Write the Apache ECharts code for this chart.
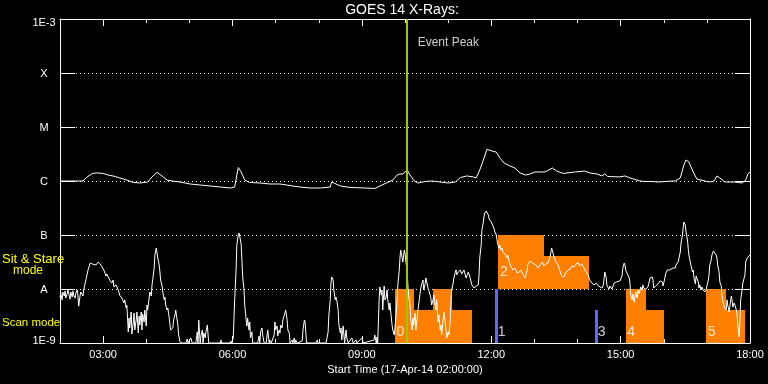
<!DOCTYPE html>
<html><head><meta charset="utf-8">
<script src="https://cdn.jsdelivr.net/npm/echarts@6/dist/echarts.min.js"></script>
<style>html,body{margin:0;padding:0;background:#000}#c{width:768px;height:384px}</style>
</head><body><div id="c"></div>
<script>
// Time in minutes after 00:00 on 17-Apr-14, flux in W/m^2
const xTickMinutes = [180, 360, 540, 720, 900, 1080];
const xTickLabels = ['03:00', '06:00', '09:00', '12:00', '15:00', '18:00'];
const yTickExps = [-9, -8, -7, -6, -5, -4, -3];
const yTickLabels = ['1E-9', 'A', 'B', 'C', 'M', 'X', '1E-3'];

// 1-8 Angstrom channel (upper curve)
const longFlux = [[120,1e-6],[141,1e-6],[152,1e-6],[156,1.14e-6],[165,1.38e-6],[171,1.41e-6],[180,1.38e-6],[187,1.29e-6],[197,1.21e-6],[203,1.14e-6],[213,1.04e-6],[222,9.4e-7],[231,9.18e-7],[242,9.58e-7],[248,1.19e-6],[255,1.45e-6],[262,1.24e-6],[269,1.04e-6],[280,9.8e-7],[287,9.58e-7],[301,8.8e-7],[315,8.43e-7],[329,8.08e-7],[343,7.74e-7],[357,7.42e-7],[363,7.74e-7],[368,1.78e-6],[372,1.47e-6],[377,1.04e-6],[384,9.4e-7],[398,9.18e-7],[412,8.8e-7],[426,8.8e-7],[444,8.08e-7],[454,7.74e-7],[468,7.42e-7],[482,7.42e-7],[496,7.74e-7],[498,9.58e-7],[504,8.8e-7],[510,8.08e-7],[523,7.6e-7],[544,7.42e-7],[558,7.27e-7],[565,8.08e-7],[574,9.18e-7],[583,1.04e-6],[589,1.29e-6],[593,1.35e-6],[597,1.35e-6],[600,1.47e-6],[603,1.6e-6],[607,1.29e-6],[613,1e-6],[618,9.18e-7],[628,9.8e-7],[638,1e-6],[649,9.58e-7],[660,9.18e-7],[670,9.58e-7],[677,1.16e-6],[686,1.24e-6],[695,1.19e-6],[699,1.14e-6],[704,1.6e-6],[709,2.45e-6],[714,3.86e-6],[721,3.59e-6],[727,3.44e-6],[732,2.67e-6],[738,2.15e-6],[746,1.9e-6],[753,1.74e-6],[760,1.41e-6],[768,1.29e-6],[774,1.35e-6],[781,1.47e-6],[795,1.47e-6],[805,1.74e-6],[811,1.53e-6],[820,1.38e-6],[837,1.47e-6],[850,1.53e-6],[857,1.41e-6],[867,1.35e-6],[874,1.24e-6],[878,1.35e-6],[882,1.21e-6],[899,1.19e-6],[906,1.24e-6],[913,1.14e-6],[927,1e-6],[934,9.8e-7],[944,9.8e-7],[952,9.58e-7],[962,9.8e-7],[976,1e-6],[983,1.14e-6],[988,1.98e-6],[991,2.45e-6],[995,2.25e-6],[1001,1.47e-6],[1006,1.09e-6],[1017,1e-6],[1024,9.58e-7],[1030,1e-6],[1034,1.24e-6],[1038,1.14e-6],[1045,9.58e-7],[1059,9.58e-7],[1069,9.18e-7],[1074,1.04e-6],[1077,1.35e-6],[1080,1.47e-6]];

// 0.5-4 Angstrom channel (lower curve)
const shortFlux = [[120,7.1e-9],[121,8.4e-9],[123,6.3e-9],[124,8.8e-9],[126,7.4e-9],[127,9.2e-9],[128,6.8e-9],[130,8.1e-9],[131,9.6e-9],[133,7.4e-9],[134,6.5e-9],[135,8.8e-9],[137,7.1e-9],[138,9.2e-9],[139,7.7e-9],[141,6.8e-9],[142,8.4e-9],[144,9.6e-9],[145,7.4e-9],[146,4.8e-9],[148,7.7e-9],[149,8.8e-9],[151,8.1e-9],[152,7.4e-9],[153,9.6e-9],[156,1.47e-8],[159,2.25e-8],[162,3.03e-8],[165,2.9e-8],[167,2.67e-8],[170,2.78e-8],[173,3.16e-8],[176,2.9e-8],[178,2.67e-8],[181,2.25e-8],[184,1.74e-8],[185,1.9e-8],[187,1.67e-8],[190,1.41e-8],[192,1.29e-8],[194,1.47e-8],[195,1.09e-8],[198,1.19e-8],[201,9.6e-9],[202,8.8e-9],[203,7.7e-9],[206,6.8e-9],[208,7.4e-9],[209,5.5e-9],[210,6.3e-9],[212,4.45e-9],[213,5.05e-9],[215,1.6e-9],[216,2.9e-9],[217,1.9e-9],[219,3.75e-9],[220,1.47e-9],[222,2.45e-9],[223,3.59e-9],[224,1.74e-9],[226,2.67e-9],[227,3.75e-9],[229,1.53e-9],[230,3.16e-9],[231,2.15e-9],[233,3.75e-9],[234,1.74e-9],[235,3.44e-9],[237,2.45e-9],[238,4.08e-9],[240,2.06e-9],[241,5.05e-9],[242,4.08e-9],[245,8.8e-9],[247,7.4e-9],[248,1.19e-8],[249,1.47e-8],[251,2.45e-8],[252,4.26e-8],[254,5.74e-8],[255,5.5e-8],[256,3.75e-8],[258,2.78e-8],[259,2.06e-8],[260,1.47e-8],[262,1.14e-8],[263,8.8e-9],[265,6.3e-9],[266,7.1e-9],[267,5.05e-9],[269,4.08e-9],[270,4.45e-9],[272,2.9e-9],[273,2.15e-9],[274,1.74e-9],[276,1.6e-9],[277,1.9e-9],[278,2.67e-9],[280,3.3e-9],[281,4.08e-9],[283,3.75e-9],[284,2.15e-9],[285,1.41e-9],[287,1.04e-9],[290,1e-9],[295,1e-9],[297,1.19e-9],[298,1e-9],[302,1.24e-9],[304,1e-9],[309,1e-9],[311,1.6e-9],[312,1e-9],[313,2.67e-9],[315,1e-9],[316,1.35e-9],[318,1.74e-9],[319,1e-9],[320,1.53e-9],[322,1.24e-9],[323,1.6e-9],[325,2.15e-9],[326,1.41e-9],[327,1e-9],[343,1e-9],[344,1.14e-9],[345,1e-9],[357,1e-9],[358,1.09e-9],[359,1e-9],[361,1.24e-9],[362,2.67e-9],[363,6.3e-9],[365,2.25e-8],[366,6.53e-8],[368,1e-7],[369,1.09e-7],[370,9.58e-8],[372,6.8e-8],[373,3.75e-8],[374,1.82e-8],[376,9.6e-9],[377,5.05e-9],[379,2.67e-9],[380,2.06e-9],[381,2.9e-9],[383,1.74e-9],[384,2.45e-9],[385,1.24e-9],[387,1.6e-9],[388,1e-9],[395,1e-9],[397,1.35e-9],[398,1e-9],[399,1.6e-9],[401,1.9e-9],[402,1.41e-9],[404,1e-9],[407,1e-9],[408,1.35e-9],[409,1.74e-9],[411,1e-9],[412,1.14e-9],[414,1e-9],[416,1e-9],[418,1.41e-9],[419,2.45e-9],[420,1.74e-9],[422,2.06e-9],[423,1.35e-9],[425,1.74e-9],[426,1.53e-9],[427,2.15e-9],[429,1.9e-9],[430,2.67e-9],[432,2.9e-9],[433,3.59e-9],[434,4.08e-9],[436,2.67e-9],[437,1.74e-9],[439,1.53e-9],[440,1e-9],[443,1.14e-9],[444,1e-9],[446,1.24e-9],[447,1e-9],[448,1.14e-9],[450,1e-9],[457,1.09e-9],[458,1.74e-9],[460,2.67e-9],[461,2.45e-9],[463,1e-9],[476,1e-9],[478,1.14e-9],[479,1e-9],[490,1e-9],[491,1.14e-9],[493,1.6e-9],[494,3.16e-9],[496,6.3e-9],[497,1.29e-8],[498,1.67e-8],[500,1.47e-8],[501,9.6e-9],[503,6.3e-9],[504,7.1e-9],[505,6.3e-9],[507,4.08e-9],[508,2.15e-9],[510,1.53e-9],[511,1.9e-9],[512,1.14e-9],[514,2.06e-9],[515,1.41e-9],[516,1e-9],[518,1.74e-9],[519,1.24e-9],[521,1e-9],[526,1.24e-9],[528,1e-9],[532,1.14e-9],[533,1e-9],[540,1.24e-9],[542,1e-9],[557,1.14e-9],[558,1.41e-9],[560,1e-9],[561,1.29e-9],[562,1e-9],[564,6.3e-9],[565,1.09e-8],[567,7.7e-9],[568,9.6e-9],[569,4.08e-9],[571,1.14e-8],[572,6.3e-9],[574,7.1e-9],[575,9.6e-9],[576,6.3e-9],[578,4.08e-9],[579,5.5e-9],[581,2.9e-9],[582,2.15e-9],[583,1.74e-9],[585,1.41e-9],[586,1.9e-9],[587,2.67e-9],[589,6.3e-9],[590,1.19e-8],[592,2.25e-8],[593,3.75e-8],[594,5.27e-8],[596,4.84e-8],[597,3.16e-8],[599,5.27e-8],[600,4.64e-8],[601,3.44e-8],[603,2.06e-8],[604,1.19e-8],[605,7.7e-9],[607,5.05e-9],[608,2.67e-9],[610,1.74e-9],[611,2.9e-9],[612,2.15e-9],[614,3.59e-9],[615,1.74e-9],[617,2.9e-9],[618,4.08e-9],[619,5.05e-9],[621,8.4e-9],[622,1.04e-8],[623,1.19e-8],[625,1.47e-8],[626,9.6e-9],[628,1.24e-8],[629,1.6e-8],[630,1.47e-8],[632,1.04e-8],[633,9.6e-9],[635,7.7e-9],[636,6.8e-9],[637,5.05e-9],[639,6.3e-9],[640,7.7e-9],[642,5.05e-9],[643,4.08e-9],[644,6.3e-9],[646,2.45e-9],[647,3.3e-9],[649,1.74e-9],[650,2.15e-9],[651,1.41e-9],[653,2.67e-9],[654,3.75e-9],[656,2.45e-9],[657,1.74e-9],[658,1.24e-9],[660,1.6e-9],[661,1.41e-9],[663,2.67e-9],[664,6.3e-9],[665,9.6e-9],[667,1.29e-8],[668,1.6e-8],[670,2.06e-8],[671,2.25e-8],[672,1.82e-8],[674,2.06e-8],[677,2.25e-8],[679,1.9e-8],[682,2.25e-8],[685,1.6e-8],[688,2.06e-8],[690,1.74e-8],[693,1.19e-8],[696,1.04e-8],[699,1.14e-8],[702,1.19e-8],[703,1.82e-8],[704,3.75e-8],[706,6.53e-8],[707,1.24e-7],[709,1.74e-7],[710,2.25e-7],[711,2.55e-7],[713,2.78e-7],[714,2.67e-7],[716,2.34e-7],[717,1.98e-7],[718,2.06e-7],[720,1.74e-7],[721,1.6e-7],[722,1.53e-7],[724,1.29e-7],[725,1.14e-7],[727,1e-7],[728,8.08e-8],[729,6.8e-8],[731,5.74e-8],[732,6.53e-8],[733,5.27e-8],[735,5.74e-8],[736,4.84e-8],[739,4.45e-8],[742,3.75e-8],[743,4.26e-8],[745,3.16e-8],[747,2.67e-8],[750,2.25e-8],[753,2.45e-8],[756,1.98e-8],[759,2.06e-8],[761,2.25e-8],[764,1.9e-8],[767,1.6e-8],[770,2.25e-8],[771,2.9e-8],[774,3.3e-8],[777,3.03e-8],[779,3.16e-8],[782,2.78e-8],[785,2.45e-8],[788,2.78e-8],[791,3.16e-8],[793,2.67e-8],[796,2.9e-8],[799,3.03e-8],[802,4.08e-8],[804,5.74e-8],[807,4.08e-8],[810,3.16e-8],[813,2.78e-8],[816,2.06e-8],[818,1.74e-8],[821,1.67e-8],[824,2.06e-8],[827,2.25e-8],[830,2.34e-8],[832,2.67e-8],[835,2.55e-8],[838,2.9e-8],[841,3.03e-8],[843,2.67e-8],[846,2.9e-8],[849,2.45e-8],[852,2.06e-8],[855,1.82e-8],[857,1.47e-8],[860,1.29e-8],[863,1.19e-8],[866,1.29e-8],[869,1.14e-8],[871,1.24e-8],[874,1.04e-8],[876,1.19e-8],[877,1.6e-8],[878,2.06e-8],[880,1.6e-8],[881,1.14e-8],[882,1.19e-8],[884,1e-8],[885,1.14e-8],[888,1e-8],[891,1.29e-8],[894,1.35e-8],[896,1.29e-8],[899,1.41e-8],[902,1.74e-8],[903,2.45e-8],[905,3.03e-8],[906,2.78e-8],[907,2.25e-8],[909,2.45e-8],[910,1.82e-8],[912,1.6e-8],[913,1.29e-8],[914,7.7e-9],[916,6.3e-9],[917,8.1e-9],[919,5.7e-9],[920,7.4e-9],[921,8.8e-9],[923,6.8e-9],[924,9.6e-9],[926,8.1e-9],[927,9.6e-9],[928,1.09e-8],[930,9.6e-9],[931,1.19e-8],[932,1.04e-8],[935,1e-8],[938,1.09e-8],[939,1.24e-8],[941,1.6e-8],[942,1.74e-8],[944,1.67e-8],[945,1.47e-8],[946,1.04e-8],[948,9.6e-9],[949,1.14e-8],[952,1.24e-8],[955,1.41e-8],[958,1.35e-8],[959,1.14e-8],[961,1.47e-8],[962,1.74e-8],[963,1.98e-8],[965,2.25e-8],[968,2.25e-8],[970,2.45e-8],[973,2.45e-8],[976,2.45e-8],[977,2.78e-8],[980,3.16e-8],[981,3.44e-8],[983,4.84e-8],[984,7.1e-8],[986,1e-7],[987,1.35e-7],[988,1.74e-7],[990,1.53e-7],[991,1.14e-7],[993,8.08e-8],[994,5.74e-8],[995,4.26e-8],[997,3.16e-8],[998,2.67e-8],[1000,2.06e-8],[1001,2.25e-8],[1002,1.6e-8],[1004,1.24e-8],[1005,1.74e-8],[1006,1.82e-8],[1008,1.35e-8],[1009,1.04e-8],[1010,1.19e-8],[1012,9.6e-9],[1013,1.09e-8],[1015,9.6e-9],[1017,8.8e-9],[1019,9.6e-9],[1020,1.14e-8],[1022,1.47e-8],[1023,1.82e-8],[1024,2.78e-8],[1026,3.44e-8],[1027,4.26e-8],[1029,5.05e-8],[1030,5.27e-8],[1031,4.84e-8],[1033,4.26e-8],[1034,3.75e-8],[1035,2.78e-8],[1037,2.06e-8],[1038,1.35e-8],[1040,1.14e-8],[1041,7.7e-9],[1042,6.3e-9],[1044,4.64e-9],[1045,5.05e-9],[1047,4.08e-9],[1048,6.3e-9],[1049,5.05e-9],[1051,3.75e-9],[1052,4.84e-9],[1054,7.4e-9],[1055,6.3e-9],[1056,4.64e-9],[1058,5.5e-9],[1059,5.05e-9],[1061,4.08e-9],[1062,3.3e-9],[1063,2.15e-9],[1065,1.29e-9],[1066,2.67e-9],[1067,6.3e-9],[1069,9.6e-9],[1070,1.29e-8],[1072,1.19e-8],[1073,1.82e-8],[1074,3.16e-8],[1076,3.75e-8],[1077,3.9e-8],[1078,4.08e-8],[1080,4.26e-8]];

// Observation mode blocks (orange), overlapping rectangles
const blockStart = [586, 586, 639, 730, 730, 907, 907, 1019, 1019];
const blockEnd   = [693, 613, 666, 856, 793, 961, 935, 1073, 1047];
const blockLow   = [1e-9, 1e-9, 1e-9, 1e-8, 1e-8, 1e-9, 1e-9, 1e-9, 1e-9];
const blockHigh  = [4.08e-9, 1e-8, 1e-8, 4.08e-8, 1e-7, 4.08e-9, 1e-8, 4.08e-9, 1e-8];

// Short observations (blue bars)
const markerT = [727, 866];
const markerLow = [1e-9, 1e-9];
const markerHigh = [1e-8, 4.08e-9];

// Event peak and text annotations
const eventPeakT = 603;
const annT = [603, 586, 727, 730, 866, 907, 1019];
const annV = [3.6e-4, 1.6e-9, 1.6e-9, 2.06e-8, 1.6e-9, 1.6e-9, 1.6e-9];
const annText = ['Event Peak', '0', '1', '2', '3', '4', '5'];

const FONT = 'Liberation Sans';
const WHITE = '#ffffff';
const chart = echarts.init(document.getElementById('c'), null, {renderer: 'canvas'});

const xBase = {type: 'value', min: 120, max: 1080, splitLine: {show: false}, gridIndex: 0};
const lineW = {color: WHITE, width: 1};

const yRich = {
  c: {width: 26, align: 'center', padding: [2, 0, 0, 0], color: WHITE, fontFamily: FONT, fontSize: 11},
  t: {width: 26, align: 'center', padding: [7, 0, 0, 0], color: WHITE, fontFamily: FONT, fontSize: 11},
  b: {width: 26, align: 'center', padding: [0, 0, 5, 0], color: WHITE, fontFamily: FONT, fontSize: 11}
};

const option = {
  backgroundColor: '#000000',
  animation: false,
  grid: {left: 60, right: 18, top: 19, bottom: 41},
  xAxis: [
    Object.assign({}, xBase, {
      position: 'bottom', interval: 60,
      axisLine: {show: true, lineStyle: lineW},
      axisTick: {show: true, inside: true, length: 4, lineStyle: lineW},
      axisLabel: {show: true, customValues: xTickMinutes, color: WHITE, fontFamily: FONT, fontSize: 11, margin: 6,
        formatter: v => { const i = xTickMinutes.indexOf(Math.round(v)); return i >= 0 ? xTickLabels[i] : ''; }},
      name: 'Start Time (17-Apr-14 02:00:00)', nameLocation: 'middle', nameGap: 20,
      nameTextStyle: {color: WHITE, fontFamily: FONT, fontSize: 11}
    }),
    Object.assign({}, xBase, {
      position: 'top', interval: 60,
      axisLine: {show: true, lineStyle: lineW},
      axisTick: {show: true, inside: true, length: 4, lineStyle: lineW},
      axisLabel: {show: false}
    }),
    Object.assign({}, xBase, {
      position: 'top',
      axisLine: {show: false},
      axisTick: {show: true, inside: true, length: 7, customValues: xTickMinutes, lineStyle: lineW},
      axisLabel: {show: false}
    }),
    Object.assign({}, xBase, {
      position: 'bottom',
      axisLine: {show: false},
      axisTick: {show: true, inside: true, length: 7, customValues: xTickMinutes, lineStyle: lineW},
      axisLabel: {show: false}
    })
  ],
  yAxis: [
    {
      type: 'log', logBase: 10, min: 1e-9, max: 1e-3, splitNumber: 6, position: 'left',
      axisLine: {show: true, lineStyle: lineW},
      axisTick: {show: true, inside: true, length: 15, lineStyle: lineW},
      splitLine: {show: true, lineStyle: {color: WHITE, width: 1, type: [1, 3]}},
      axisLabel: {
        show: true, margin: 3, rich: yRich,
        formatter: v => {
          const e = Math.round(Math.log10(v));
          const i = yTickExps.indexOf(e);
          if (i < 0) return '';
          const st = e === -3 ? 't' : (e === -9 ? 'b' : 'c');
          return '{' + st + '|' + yTickLabels[i] + '}';
        }
      }
    },
    {
      type: 'log', logBase: 10, min: 1e-9, max: 1e-3, splitNumber: 6, position: 'right',
      axisLine: {show: true, lineStyle: lineW},
      axisTick: {show: true, inside: true, length: 15, lineStyle: lineW},
      splitLine: {show: false},
      axisLabel: {show: false}
    }
  ],
  graphic: [
    {type: 'text', x: 402, y: 10, z: 10, style: {text: 'GOES 14 X-Rays:', fill: WHITE, fontFamily: FONT, fontSize: 14, align: 'center', verticalAlign: 'middle'}},
    {type: 'text', x: 2, y: 259, z: 10, style: {text: 'Sit & Stare', fill: '#ffff00', fontFamily: FONT, fontSize: 13, align: 'left', verticalAlign: 'middle'}},
    {type: 'text', x: 13, y: 271, z: 10, style: {text: 'mode', fill: '#ffff00', fontFamily: FONT, fontSize: 12, align: 'left', verticalAlign: 'middle'}},
    {type: 'text', x: 2, y: 323, z: 10, style: {text: 'Scan mode', fill: '#ffff00', fontFamily: FONT, fontSize: 11.5, align: 'left', verticalAlign: 'middle'}}
  ],
  series: [
    {
      name: 'blocks', type: 'custom', xAxisIndex: 0, yAxisIndex: 0, z: 1, silent: true,
      encode: {x: [0, 1], y: [2, 3]},
      data: blockStart.map((s, i) => [s, blockEnd[i], blockLow[i], blockHigh[i]]),
      renderItem: (params, api) => {
        const p0 = api.coord([api.value(0), api.value(3)]);
        const p1 = api.coord([api.value(1), api.value(2)]);
        const x0 = Math.round(p0[0]), y0 = Math.round(p0[1]);
        const x1 = Math.round(p1[0]), y1 = Math.round(p1[1]);
        return {type: 'rect', shape: {x: x0, y: y0, width: x1 - x0, height: y1 - y0}, style: {fill: '#ff8000', stroke: null}};
      }
    },
    {
      name: '1-8 A', type: 'line', xAxisIndex: 0, yAxisIndex: 0, z: 2, data: longFlux,
      showSymbol: false, symbol: 'none', lineStyle: {color: WHITE, width: 1}, silent: true
    },
    {
      name: '0.5-4 A', type: 'line', xAxisIndex: 0, yAxisIndex: 0, z: 2, data: shortFlux,
      showSymbol: false, symbol: 'none', lineStyle: {color: WHITE, width: 1}, silent: true
    },
    {
      name: 'markers', type: 'custom', xAxisIndex: 0, yAxisIndex: 0, z: 3, silent: true,
      encode: {x: 0, y: [1, 2]},
      data: markerT.map((t, i) => [t, markerLow[i], markerHigh[i]]),
      renderItem: (params, api) => {
        const pTop = api.coord([api.value(0), api.value(2)]);
        const pBot = api.coord([api.value(0), api.value(1)]);
        const x0 = Math.round(pTop[0] - 1.5);
        return {type: 'rect', shape: {x: x0, y: Math.round(pTop[1]), width: 3, height: Math.round(pBot[1]) - Math.round(pTop[1])}, style: {fill: '#6464ff'}};
      }
    },
    {
      name: 'annotations', type: 'scatter', xAxisIndex: 0, yAxisIndex: 0, z: 5, silent: true,
      symbolSize: 1, itemStyle: {color: 'rgba(0,0,0,0)'},
      data: annT.map((t, i) => ({
        value: [t, annV[i]],
        label: {
          show: true, position: 'right', distance: annText[i].length > 1 ? 10 : 1,
          formatter: annText[i], color: WHITE, fontFamily: FONT,
          fontSize: annText[i].length > 1 ? 12 : 14
        }
      })),
      markLine: {
        silent: true, symbol: ['none', 'none'], label: {show: false},
        lineStyle: {color: '#99cc00', width: 2, type: 'solid'},
        data: [{xAxis: eventPeakT}]
      }
    }
  ]
};
chart.setOption(option);
</script>
</body></html>
